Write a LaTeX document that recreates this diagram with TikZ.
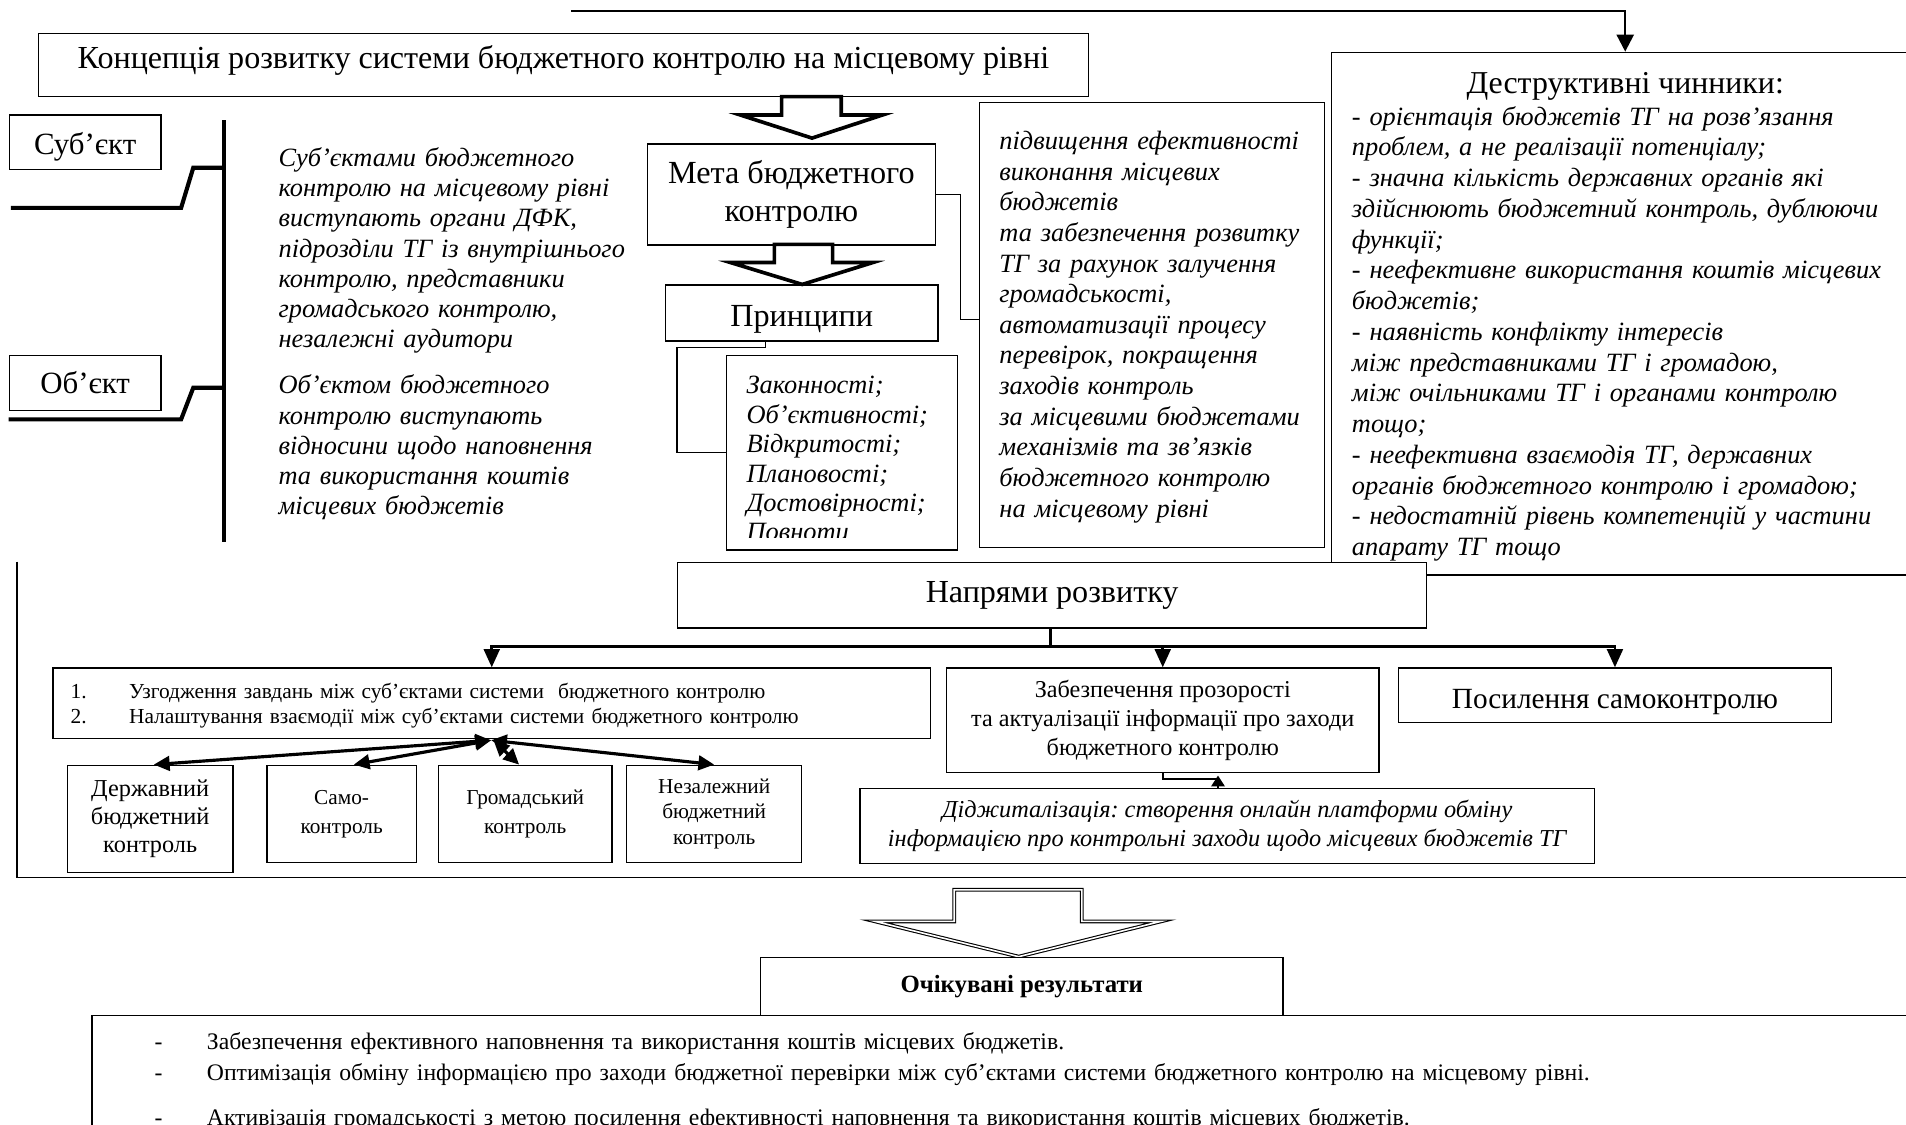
\documentclass[tikz,border=0pt]{standalone}
\usepackage{fontspec}
\setmainfont{Liberation Serif}
\usetikzlibrary{arrows.meta,positioning}

\newcommand\fsz[2]{\fontsize{#1}{#2}\selectfont}
\frenchspacing

\begin{document}
\begin{tikzpicture}[x=1pt,y=-1pt,
  box/.style={draw,line width=1.1pt,fill=white,inner sep=0pt,anchor=north west},
  txt/.style={inner sep=0pt,anchor=base west,align=left},
  ital/.style={font=\fsz{21.7}{24.85}\itshape},
  big/.style={font=\fsz{26.4}{31}},
  link/.style={line width=1pt},
  thickline/.style={line width=2.2pt},
  flow/.style={line width=2.2pt,-{Triangle[length=15pt,width=13pt]}},
  both/.style={line width=2.6pt,{Triangle[length=13pt,width=12pt]}-{Triangle[length=13pt,width=12pt]}},
  hollow/.style={draw,line width=3pt,fill=white,line join=miter},
  ]
\useasboundingbox (0,0) rectangle (1568,925);

% top block
\node[box,big,minimum width=864pt,minimum height=52pt,text depth=14pt] (concept) at (31,27)
  {Концепція розвитку системи бюджетного контролю на місцевому рівні};

% destructive factors
\node[box,minimum width=485pt,minimum height=430pt] (destr) at (1095,42.5) {};
\node[inner sep=0pt,anchor=base,font=\fsz{26.2}{31}] (destrhead) at (1337,77) {Деструктивні чинники:};
\node[txt,text width=560pt,font=\fsz{21.7}{25.3}\itshape] (destrlist) at (1112,103) {%
  - орієнтація бюджетів ТГ на розв’язання\\
  проблем, а не реалізації потенціалу;\\
  - значна кількість державних органів які\\
  здійснюють бюджетний контроль, дублюючи\\
  функції;\\
  - неефективне використання коштів місцевих\\
  бюджетів;\\
  - наявність конфлікту інтересів\\
  між представниками ТГ і громадою,\\
  між очільниками ТГ і органами контролю\\
  тощо;\\
  - неефективна взаємодія ТГ, державних\\
  органів бюджетного контролю і громадою;\\
  - недостатній рівень компетенцій у частини\\
  апарату ТГ тощо};
\coordinate (topstart) at (470,9);
\draw[line width=2pt,-{Triangle[length=14pt,width=14pt]}] (topstart) -| ([xshift=242pt]destr.north west);

% subject and object
\node[box,minimum width=125pt,minimum height=45pt,font=\fsz{25.4}{30},text height=25pt] (subj) at (7,94) {Суб’єкт};
\node[box,minimum width=125pt,minimum height=45pt,font=\fsz{25.4}{30}] (obj) at (7,292) {Об’єкт};
\coordinate (brtop) at (184,99);
\coordinate (brbot) at (184,446);
\draw[line width=3.4pt] (brtop) -- (brbot);
\draw[line width=3.4pt] (184,138) -- (159,138) -- (149,171) -- (9,171);
\draw[line width=3.4pt] (184,319) -- (159,319) -- (149,345) -- (7,345);
\node[txt,ital,text width=400pt] (subjtext) at (229,137) {%
  Суб’єктами бюджетного\\
  контролю на місцевому рівні\\
  виступають органи ДФК,\\
  підрозділи ТГ із внутрішнього\\
  контролю, представники\\
  громадського контролю,\\
  незалежні аудитори};
\node[txt,ital,text width=400pt] (objtext) at (229,324) {%
  Об’єктом бюджетного\\
  контролю виступають\\
  відносини щодо наповнення\\
  та використання коштів\\
  місцевих бюджетів};

% goal and principles
\node[box,minimum width=237pt,minimum height=83pt,align=center,font=\fsz{26.5}{31}] (meta) at (532,118)
  {Мета бюджетного\\контролю};
\node[box,minimum width=224pt,minimum height=46pt,font=\fsz{26.5}{31},text height=27pt] (princ) at (547,234) {Принципи};
\draw[hollow] (643,79.5) -- (692,79.5) -- (692,94.6) -- (726,94.6) -- (668,113.6)
  -- (609,94.6) -- (643,94.6) -- cycle;
\draw[hollow] (637,201) -- (685,201) -- (685,216) -- (718,216) -- (660,234)
  -- (601,216) -- (637,216) -- cycle;

\node[box,minimum width=190pt,minimum height=160pt] (plist) at (597,292) {};
\begin{scope}
  \clip (597,292) rectangle (787,442);
  \node[txt,text width=180pt,font=\fsz{21.7}{24.2}\itshape] (plisttext) at (614,324) {%
    Законності;\\ Об’єктивності;\\ Відкритості;\\ Плановості;\\ Достовірності;\\ Повноти};
\end{scope}
\coordinate (pbend) at (557,285.6);
\draw[link] ([xshift=-30pt]princ.south) |- (pbend) |- (plist.west);

\node[box,minimum width=284pt,minimum height=366pt] (mid) at (805,84) {};
\node[txt,text width=300pt,font=\fsz{21.7}{25.2}\itshape] (midtext) at (822,123) {%
  підвищення ефективності\\
  виконання місцевих\\
  бюджетів\\
  та забезпечення розвитку\\
  ТГ за рахунок залучення\\
  громадськості,\\
  автоматизації процесу\\
  перевірок, покращення\\
  заходів контроль\\
  за місцевими бюджетами\\
  механізмів та зв’язків\\
  бюджетного контролю\\
  на місцевому рівні};
\draw[link] (meta.east) -- ++(20,0) |- ([yshift=5pt]mid.west);

% directions of development
\coordinate (frametop) at (14,462);
\coordinate (framecorner) at (14,722);
\coordinate (frameend) at (1600,722);
\draw[link] (frametop) -- (framecorner) -- (frameend);
\node[box,big,minimum width=616pt,minimum height=54pt] (napr) at (557,462) {Напрями розвитку};

\node[box,minimum width=722pt,minimum height=58pt] (uzg) at (43,549) {};
\node[txt,text width=700pt,font=\fsz{17.6}{20.6}] (uzgtext) at (58,575) {%
  \makebox[48pt][l]{1.}Узгодження завдань між суб’єктами системи\ \ бюджетного контролю\\
  \makebox[48pt][l]{2.}Налаштування взаємодії між суб’єктами системи бюджетного контролю};
\node[box,minimum width=356pt,minimum height=86pt,align=center,font=\fsz{19.9}{23.6}] (zab) at (778,549)
  {Забезпечення прозорості\\ та актуалізації інформації про заходи\\ бюджетного контролю};
\node[box,minimum width=356pt,minimum height=45pt,font=\fsz{24.1}{29},text height=26pt] (pos) at (1150,549)
  {Посилення самоконтролю};

\coordinate (split) at (864,532);
\draw[thickline] (napr.south -| split) -- (split);
\draw[flow] (split) -| (uzg.north);
\draw[flow] (split) -| (zab.north);
\draw[flow] (split) -| (pos.north);

\node[box,minimum width=604pt,minimum height=62pt,align=center,font=\fsz{20}{24}\itshape] (dig) at (707,648)
  {Діджиталізація: створення онлайн платформи обміну\\
   інформацією про контрольні заходи щодо місцевих бюджетів ТГ};
\coordinate (digbend) at (1002,641);
\draw[line width=2pt] (zab.south) |- (digbend);
\draw[line width=2pt,-{Triangle[length=9pt,width=11pt]}] (dig.north -| digbend) -- ([yshift=3pt]digbend);

% kinds of control
\node[box,minimum width=136pt,minimum height=88pt,align=center,font=\fsz{20}{23}] (derzh) at (55,629)
  {Державний\\бюджетний\\контроль};
\node[box,minimum width=123pt,minimum height=80pt,align=center,font=\fsz{17.5}{24}] (samo) at (219,629)
  {Само-\\контроль};
\node[box,minimum width=143pt,minimum height=80pt,align=center,font=\fsz{17.5}{24}] (hrom) at (360,629)
  {Громадський\\контроль};
\node[box,minimum width=144pt,minimum height=80pt,align=center,font=\fsz{17.5}{21}] (nezal) at (515,629)
  {Незалежний\\бюджетний\\контроль};
\coordinate (hub) at (404,609);
\draw[both] (hub) -- ([xshift=3pt]derzh.north);
\draw[both] (hub) -- ([xshift=10pt]samo.north);
\draw[both] ([xshift=2pt]hub) -- ([xshift=-5pt]hrom.north);
\draw[both] (hub) -- (nezal.north);

% expected results
\draw[fill=white,line width=0.9pt,double,double distance=1.3pt] (785,732) -- (890,732)
  -- (890,758) -- (955,758) -- (838,787) -- (720,758) -- (785,758) -- cycle;
\node[box,minimum width=1600pt,minimum height=200pt] (res) at (75,835) {};
\node[box,minimum width=430pt,minimum height=48pt,font=\fsz{20.4}{24}\bfseries] (ochik) at (625,787)
  {Очікувані результати};
\node[txt,text width=1400pt,font=\fsz{19.5}{25.5}] (restext) at (127,863) {%
  \makebox[43pt][l]{-}Забезпечення ефективного наповнення та використання коштів місцевих бюджетів.\\
  \makebox[43pt][l]{-}Оптимізація обміну інформацією про заходи бюджетної перевірки між суб’єктами системи бюджетного контролю на місцевому рівні.\\[12pt]
  \makebox[43pt][l]{-}Активізація громадськості з метою посилення ефективності наповнення та використання коштів місцевих бюджетів.};
\end{tikzpicture}
\end{document}
